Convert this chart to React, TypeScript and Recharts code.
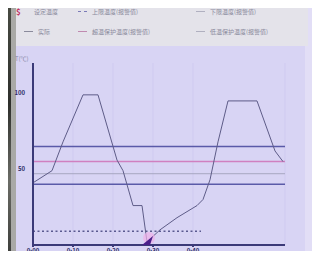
import React from "react";
import {
  LineChart,
  Line,
  XAxis,
  YAxis,
  ReferenceLine,
  ReferenceDot,
  CartesianGrid,
} from "recharts";

// minutes since start
const times = [0, 4.75, 7.5, 12.5, 16.25, 21, 22.5, 25, 27.25, 28.5, 31.75, 36, 41, 42.5, 44.25, 46.25, 48.75, 56, 60.5, 62.5];
const temps = [41, 49, 68, 99, 99, 56, 49, 26, 26, 2, 10, 18, 26, 30, 43, 68, 95, 95, 62, 55];

const xTicks = [0, 10, 20, 30, 40];
const xTickLabels = ["0:00", "0:10", "0:20", "0:30", "0:40"];
const yTicks = [50, 100];

// alarm / setpoint levels
const upperAlarm = 65;
const setPoint = 55;
const lowerBand = 47;
const lowerAlarm = 40;
const guardLevel = 9;
const guardEnd = 42;

const legendRow1 = ["设定温度", "上限温度(报警值)", "下限温度(报警值)"];
const legendRow2 = ["实际", "超温保护温度(报警值)", "低温保护温度(报警值)"];

const data = times.map((t, i) => ({ t, temp: temps[i] }));

const axisColor = "#3b3a78";

const Marker = (props: any) => {
  const { cx, cy } = props;
  return (
    <g>
      <circle cx={cx + 2} cy={cy - 4} r={6} fill="#f0b0e8" opacity={0.7} />
      <path d={`M${cx - 5},${cy + 3} L${cx + 6},${cy - 6} L${cx + 3},${cy + 3} Z`} fill="#4a1e8a" />
    </g>
  );
};

const LegendItem = ({ label, color, dash, x }: { label: string; color: string; dash?: boolean; x: number }) => (
  <div style={{ position: "absolute", left: x, display: "flex", alignItems: "center", gap: 5 }}>
    <div style={{ width: 9, height: 0, borderTop: `1px ${dash ? "dashed" : "solid"} ${color}` }} />
    <span style={{ fontSize: 6, color: "#8a8a9c", whiteSpace: "nowrap" }}>{label}</span>
  </div>
);

export default function App() {
  return (
    <div
      style={{
        position: "relative",
        width: 320,
        height: 259,
        margin: -8,
        overflow: "hidden",
        background: "#d8d4f4",
        fontFamily: "'Noto Sans CJK SC', 'DejaVu Sans', sans-serif",
      }}
    >
      <div style={{ position: "absolute", left: 0, top: 0, width: 11, height: 259, background: "linear-gradient(180deg,#4a4d44 0%,#2e2f2c 40%,#6b6c66 70%,#3a3b38 100%)" }} />
      <div style={{ position: "absolute", left: 11, top: 0, width: 5, height: 259, background: "#a9a9a6" }} />
      <div style={{ position: "absolute", left: 305, top: 0, width: 15, height: 259, background: "#e2def6" }} />
      <div style={{ position: "absolute", left: 16, top: 0, width: 292, height: 46, background: "#e4e3ea" }}>
        <div style={{ position: "absolute", top: 7, left: 0, width: "100%", height: 10 }}>
          <span style={{ position: "absolute", left: 0, top: -1, fontSize: 8, fontWeight: 700, color: "#c03060" }}>$</span>
          <LegendItem x={4} label={legendRow1[0]} color="#e4e3ea" />
          <LegendItem x={62} label={legendRow1[1]} color="#7b7bb8" dash />
          <LegendItem x={180} label={legendRow1[2]} color="#b0b0c0" />
        </div>
        <div style={{ position: "absolute", top: 27, left: 0, width: "100%", height: 10 }}>
          <LegendItem x={8} label={legendRow2[0]} color="#8a8a9c" />
          <LegendItem x={62} label={legendRow2[1]} color="#c08ab0" />
          <LegendItem x={180} label={legendRow2[2]} color="#b0b0c0" />
        </div>
      </div>
      <span style={{ position: "absolute", left: 15, top: 54, fontSize: 6, color: "#8a8aa8" }}>T(℃)</span>
      <div style={{ position: "absolute", left: 0, top: 0 }}>
        <LineChart width={320} height={259} data={data} margin={{ top: 63, right: 35, left: 0, bottom: 0 }}>
          <CartesianGrid horizontal={false} stroke="#cfcaf0" />
          <XAxis
            dataKey="t"
            type="number"
            domain={[0, 63]}
            ticks={xTicks}
            tickFormatter={(v: number) => xTickLabels[xTicks.indexOf(v)]}
            height={14}
            stroke={axisColor}
            strokeWidth={2}
            tickSize={2}
            tick={{ fontSize: 6, fill: "#2e2d66", fontWeight: 700 }}
          />
          <YAxis
            yAxisId="l"
            domain={[0, 120]}
            ticks={yTicks}
            width={33}
            stroke={axisColor}
            strokeWidth={2}
            tickLine={false}
            tick={{ fontSize: 6, fill: "#2e2d66", fontWeight: 700 }}
          />
          <YAxis yAxisId="r" orientation="right" domain={[0, 120]} width={0} tick={false} tickLine={false} stroke={axisColor} strokeWidth={2} />
          <ReferenceLine yAxisId="l" y={upperAlarm} stroke="#5a5aa8" strokeWidth={1.5} />
          <ReferenceLine yAxisId="l" y={setPoint} stroke="#d080c0" strokeWidth={1.5} />
          <ReferenceLine yAxisId="l" y={lowerBand} stroke="#a8a8c0" strokeWidth={1} />
          <ReferenceLine yAxisId="l" y={lowerAlarm} stroke="#5a5aa8" strokeWidth={1.5} />
          <ReferenceLine
            yAxisId="l"
            segment={[{ x: 0, y: guardLevel }, { x: guardEnd, y: guardLevel }]}
            stroke="#5a5a90"
            strokeWidth={1.5}
            strokeDasharray="2 2.5"
          />
          <Line
            yAxisId="l"
            type="linear"
            dataKey="temp"
            stroke="#5e5c88"
            strokeWidth={1}
            dot={false}
            isAnimationActive={false}
          />
          <ReferenceDot yAxisId="l" x={28.5} y={2} shape={Marker} />
        </LineChart>
      </div>
    </div>
  );
}
